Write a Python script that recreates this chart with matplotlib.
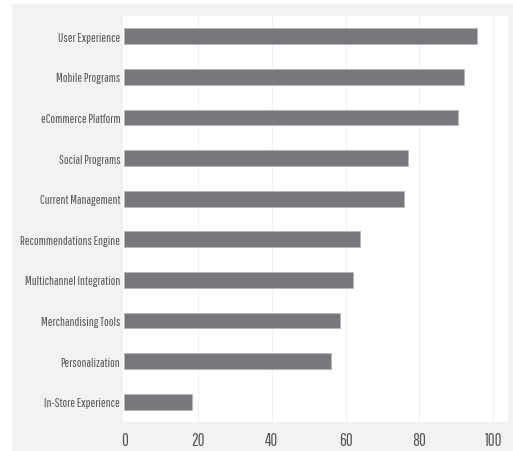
import matplotlib
matplotlib.use("Agg")
import matplotlib.pyplot as plt
from matplotlib.patches import Rectangle

categories = ["User Experience", "Mobile Programs", "eCommerce Platform", "Social Programs",
              "Current Management", "Recommendations Engine", "Multichannel Integration",
              "Merchandising Tools", "Personalization", "In-Store Experience"]
values = [95.7, 92.1, 90.4, 77.0, 75.9, 63.8, 62.0, 58.5, 56.0, 18.3]
xticks = [0, 20, 40, 60, 80, 100]

W, H = 513, 452
fig = plt.figure(figsize=(W / 100, H / 100), dpi=100)
fig.patch.set_facecolor("white")
fig.patches.append(Rectangle((12 / W, 0), 1 - 12 / W, (H - 5) / H, transform=fig.transFigure,
                             facecolor="#f2f2f2", edgecolor="none", zorder=-10))

ax = fig.add_axes([123 / W, (H - 423) / H, (508 - 123) / W, (423 - 17) / H])
ax.set_facecolor("white")
ypos = list(range(len(categories)))
ax.barh(ypos, values, height=0.39, color="#77787b", edgecolor="#b5b6b8", linewidth=0.6, zorder=3)
ax.set_ylim(len(categories) - 0.5, -0.5)
ax.set_xlim(-0.3, 104)
ax.set_yticks(ypos)
ax.set_yticklabels(categories)
ax.set_xticks(xticks)
ax.set_xticklabels([str(t) for t in xticks])
for t in xticks[1:]:
    ax.axvline(t, color="#f1f1f1", linewidth=0.8, zorder=1)
for s in ax.spines.values():
    s.set_visible(False)
ax.tick_params(axis="both", length=0)
ax.tick_params(axis="y", pad=2)
ax.tick_params(axis="x", pad=7)
fam = ["Pathway Gothic One", "DejaVu Sans"]
for lab in ax.get_yticklabels():
    lab.set_family(fam); lab.set_fontsize(9); lab.set_color("#555555")
for lab in ax.get_xticklabels():
    lab.set_family(fam); lab.set_fontsize(12); lab.set_color("#555555")

fig.savefig("out.png", dpi=100, facecolor=fig.get_facecolor())
